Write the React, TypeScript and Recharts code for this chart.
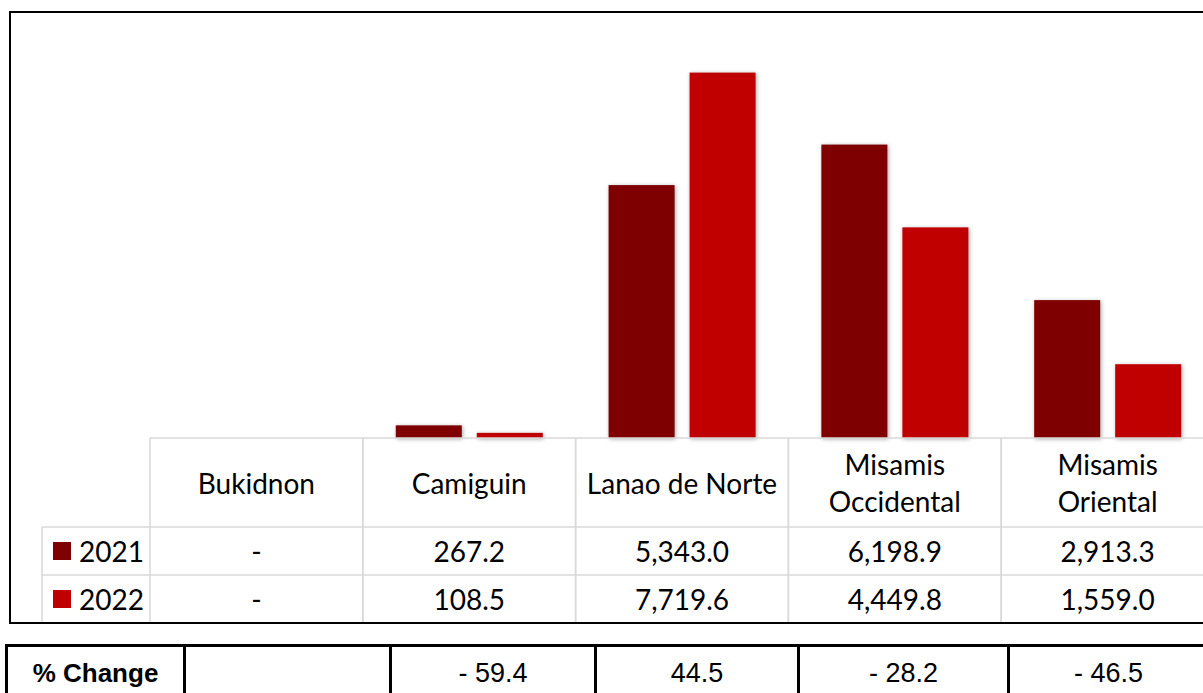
import React from 'react';
import { Bar, BarChart, XAxis, YAxis } from 'recharts';

const categories = ['Bukidnon', 'Camiguin', 'Lanao de Norte', 'Misamis Occidental', 'Misamis Oriental'];
const years = ['2021', '2022'];
const values2021 = [0, 267.2, 5343.0, 6198.9, 2913.3];
const values2022 = [0, 108.5, 7719.6, 4449.8, 1559.0];
const pctChange: (number | null)[] = [null, -59.4, 44.5, -28.2, -46.5];
const seriesColors = ['#7F0000', '#C00000'];

const data = categories.map((name, i) => ({ name, y2021: values2021[i], y2022: values2022[i] }));

const CHART_W = 1220;
const CHART_H = 624;
const MARGIN = { top: 12, right: 6, left: 150, bottom: 0 };
const COL_W = (CHART_W - MARGIN.left - MARGIN.right) / categories.length;
const GRID = '#d9d9d9';
const FONT = 'Lato, "Noto Sans", sans-serif';

const fmt = (v: number) =>
  v === 0 ? '-' : v.toLocaleString('en-US', { minimumFractionDigits: 1, maximumFractionDigits: 1 });

const fmtPct = (v: number | null) => {
  if (v === null) return '';
  const s = Math.abs(v).toFixed(1);
  return v < 0 ? `- ${s}` : s;
};

// excel wraps the long province names onto two lines
const wrap = (label: string) => {
  if (label.length <= 14) return [label];
  const cut = label.indexOf(' ');
  return [label.slice(0, cut), label.slice(cut + 1)];
};

function TableTick(props: any) {
  const { x, y, payload } = props;
  const i = categories.indexOf(payload.value);
  const left = x - COL_W / 2;
  const right = x + COL_W / 2;
  const lines = wrap(payload.value);
  const rows = [values2021[i], values2022[i]];
  return (
    <g fontFamily={FONT} fontSize={28} fill="#000">
      {/* header + row lines */}
      <line x1={left} x2={right} y1={y} y2={y} stroke={GRID} strokeWidth={1.5} />
      <line x1={left} x2={right} y1={y + 89} y2={y + 89} stroke={GRID} strokeWidth={1.5} />
      <line x1={left} x2={right} y1={y + 137} y2={y + 137} stroke={GRID} strokeWidth={1.5} />
      <line x1={left} x2={left} y1={y} y2={y + 190} stroke={GRID} strokeWidth={1.5} />
      <line x1={right} x2={right} y1={y} y2={y + 190} stroke={GRID} strokeWidth={1.5} />
      {lines.map((l, k) => (
        <text
          key={l}
          x={x}
          y={lines.length === 1 ? y + 45 : y + 26 + k * 37}
          textAnchor="middle"
          dominantBaseline="central"
        >
          {l}
        </text>
      ))}
      {rows.map((v, k) => (
        <text key={k} x={x} y={y + 113 + k * 48} textAnchor="middle" dominantBaseline="central">
          {fmt(v)}
        </text>
      ))}
      {i === 0 && (
        <g>
          <line x1={left - 108} x2={left} y1={y + 89} y2={y + 89} stroke={GRID} strokeWidth={1.5} />
          <line x1={left - 108} x2={left} y1={y + 137} y2={y + 137} stroke={GRID} strokeWidth={1.5} />
          <line x1={left - 108} x2={left - 108} y1={y + 89} y2={y + 190} stroke={GRID} strokeWidth={1.5} />
          {years.map((yr, k) => (
            <g key={yr}>
              <rect x={left - 97} y={y + 104 + k * 48} width={18} height={18} fill={seriesColors[k]} />
              <text x={left - 71} y={y + 113 + k * 48} dominantBaseline="central">
                {yr}
              </text>
            </g>
          ))}
        </g>
      )}
    </g>
  );
}

const ShadowBar = (props: any) => {
  const { x, y, width, height, fill } = props;
  if (!height || height <= 0) return <g />;
  return (
    <rect
      x={x}
      y={y}
      width={width}
      height={height}
      fill={fill}
      style={{ filter: 'drop-shadow(1px 1px 2px rgba(0,0,0,0.35))' }}
    />
  );
};

// spacing between the black column rules of the % change row
const pctCols = [178, 206, 205, 203, 210, 200];

export default function App() {
  return (
    <div
      style={{
        position: 'absolute',
        left: 0,
        top: 0,
        width: 1203,
        height: 693,
        overflow: 'hidden',
        background: '#fff',
      }}
    >
      <div style={{ position: 'absolute', left: 0, top: 0 }}>
        <BarChart width={CHART_W} height={CHART_H} data={data} margin={MARGIN} barCategoryGap="15.5%" barGap={15}>
          <YAxis hide domain={[0, 9000]} />
          <XAxis
            dataKey="name"
            height={CHART_H - 438}
            axisLine={false}
            tickLine={false}
            tickSize={0}
            tickMargin={0}
            interval={0}
            tick={<TableTick />}
          />
          <Bar dataKey="y2021" name="2021" fill={seriesColors[0]} shape={<ShadowBar />} isAnimationActive={false} />
          <Bar dataKey="y2022" name="2022" fill={seriesColors[1]} shape={<ShadowBar />} isAnimationActive={false} />
        </BarChart>
      </div>
      <div
        style={{
          position: 'absolute',
          left: 9,
          top: 11,
          width: 1230,
          height: 609,
          border: '2px solid #000',
          pointerEvents: 'none',
        }}
      />
      <div style={{ position: 'absolute', left: 5, top: 644, width: 1400 }}>
        <table
          style={{
            width: pctCols.reduce((a, b) => a + b, 0),
            borderCollapse: 'collapse',
            tableLayout: 'fixed',
            fontFamily: '"Liberation Sans", Arial, sans-serif',
          }}
        >
          <colgroup>
            {pctCols.map((w, k) => (
              <col key={k} style={{ width: w }} />
            ))}
          </colgroup>
          <tbody>
            <tr style={{ height: 58 }}>
              {pctCols.map((w, k) => (
                <td
                  key={k}
                  style={{
                    border: '3px solid #000',
                    textAlign: 'center',
                    verticalAlign: 'top',
                    padding: '11px 0 0 0',
                    fontWeight: k === 0 ? 700 : 400,
                    fontSize: k === 0 ? 26 : 27,
                  }}
                >
                  {k === 0 ? '% Change' : fmtPct(pctChange[k - 1])}
                </td>
              ))}
            </tr>
          </tbody>
        </table>
      </div>
    </div>
  );
}
